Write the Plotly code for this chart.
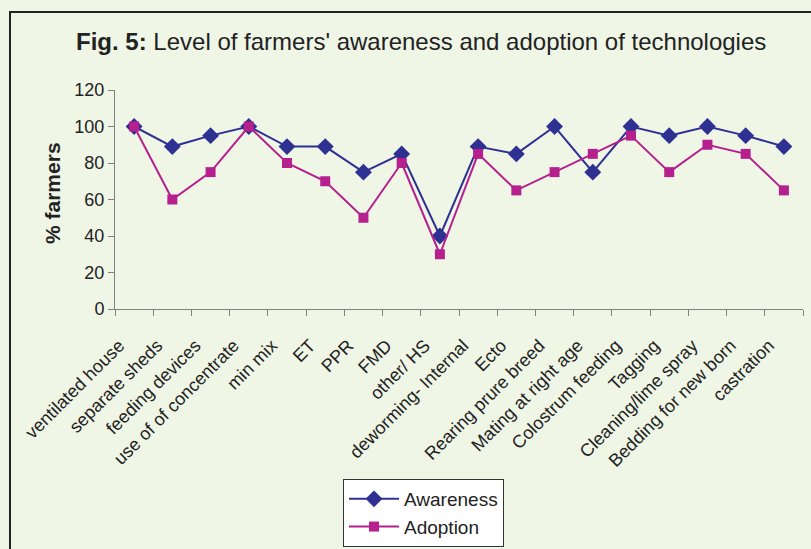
import plotly.graph_objects as go

# Technologies surveyed
categories = [
    "ventilated house", "separate sheds", "feeding devices", "use of of concentrate",
    "min mix", "ET", "PPR", "FMD", "other/ HS", "deworming- Internal", "Ecto",
    "Rearing prure breed", "Mating at right age", "Colostrum feeding", "Tagging",
    "Cleaning/lime spray", "Bedding for new born", "castration",
]
# % of farmers aware of / adopting each technology
awareness = [100, 89, 95, 100, 89, 89, 75, 85, 40, 89, 85, 100, 75, 100, 95, 100, 95, 89]
adoption = [100, 60, 75, 100, 80, 70, 50, 80, 30, 85, 65, 75, 85, 95, 75, 90, 85, 65]
y_ticks = [0, 20, 40, 60, 80, 100, 120]

FONT = "Arial, Liberation Sans, sans-serif"
BG = "#eff6e6"
W, H = 811, 549
L, R, T, B = 115, 8, 90, 240
PW, PH = W - L - R, H - T - B


def px_x(p):
    return (p - L) / PW


def px_y(p):
    return (H - B - p) / PH


fig = go.Figure()
fig.add_trace(go.Scatter(
    x=categories, y=awareness, name="Awareness", mode="lines+markers",
    line=dict(color="#2e3192", width=2),
    marker=dict(symbol="diamond", size=13, color="#2e3192"),
))
fig.add_trace(go.Scatter(
    x=categories, y=adoption, name="Adoption", mode="lines+markers",
    line=dict(color="#b5208e", width=2),
    marker=dict(symbol="square", size=10, color="#b5208e"),
))

fig.update_layout(
    width=W, height=H,
    margin=dict(l=L, r=R, t=T, b=B, autoexpand=False),
    paper_bgcolor=BG, plot_bgcolor=BG,
    font=dict(family=FONT, color="#222222"),
    showlegend=True,
    legend=dict(
        x=px_x(343), y=px_y(513), xanchor="left", yanchor="middle",
        bgcolor="white", bordercolor="#333333", borderwidth=1,
        font=dict(size=19, family=FONT, color="#222222"),
        tracegroupgap=0, itemwidth=50,
    ),
    xaxis=dict(
        type="category", showgrid=False, zeroline=False,
        showline=True, linecolor="#808080", linewidth=1,
        ticks="outside", tickson="boundaries", ticklen=6, tickcolor="#808080",
        tickangle=-45, tickfont=dict(size=18, family=FONT, color="#222222"),
        ticklabelstandoff=18, ticklabelshift=-15,
        automargin=False, range=[-0.5, len(categories) - 0.5],
    ),
    yaxis=dict(
        range=[0, 120], tickvals=y_ticks, showgrid=False, zeroline=False,
        showline=True, linecolor="#808080", linewidth=1,
        ticks="outside", ticklen=6, tickcolor="#808080",
        tickfont=dict(size=18, family=FONT, color="#222222"),
        automargin=False,
    ),
    shapes=[dict(
        type="rect", xref="paper", yref="paper",
        x0=px_x(10), x1=px_x(830), y0=px_y(570), y1=px_y(12),
        line=dict(color="#222222", width=2), fillcolor="rgba(0,0,0,0)", layer="below",
    )],
    annotations=[
        dict(
            text="<b>Fig. 5:</b> Level of farmers' awareness and adoption of technologies",
            xref="paper", yref="paper", x=px_x(421), y=px_y(41),
            xanchor="center", yanchor="middle", showarrow=False,
            font=dict(size=24, family=FONT, color="#222222"),
        ),
        dict(
            text="<b>% farmers</b>", textangle=-90,
            xref="paper", yref="paper", x=px_x(52), y=px_y(193),
            xanchor="center", yanchor="middle", showarrow=False,
            font=dict(size=21, family=FONT, color="#222222"),
        ),
    ],
)

fig.write_html("out.html")
